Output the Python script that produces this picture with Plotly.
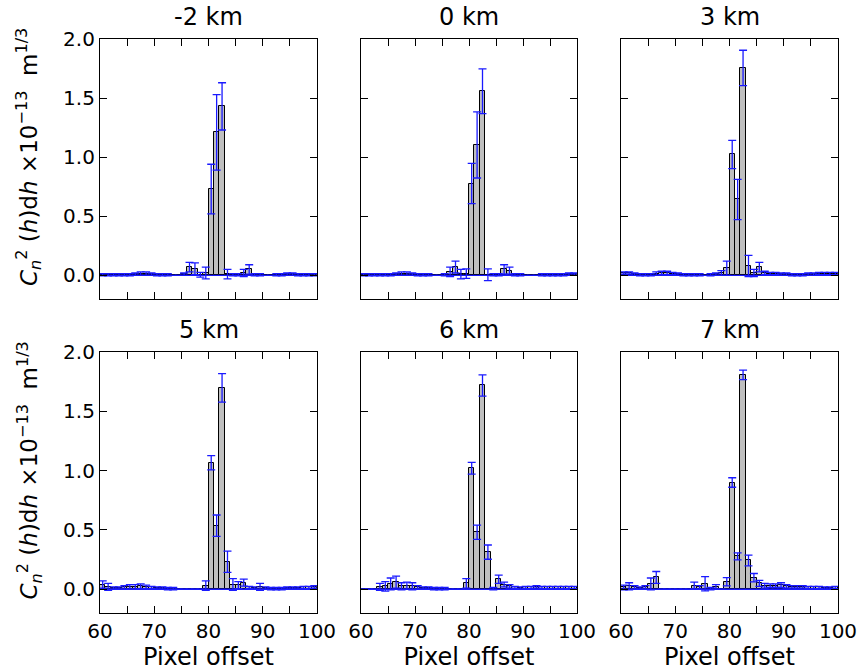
import plotly.graph_objects as go

# Pixel offsets (left edge of each unit-wide bin)
PIXELS = list(range(60, 100))

TITLES = ["-2 km", "0 km", "3 km", "5 km", "6 km", "7 km"]

# Cn2(h)dh per bin, in units of 1e-13 m^(1/3), one list per altitude
VAL_M2 = [0.005, 0.005, 0.005, 0.005, 0.005, 0.005, 0.01, 0.015, 0.015, 0.01,
          0.005, 0.005, 0.005, 0.0, 0.0, 0.01, 0.07, 0.055, 0.005, 0.02,
          0.73, 1.21, 1.43, 0.01, 0.005, 0.005, 0.02, 0.05, 0.005, 0.005,
          0.0, 0.0, 0.005, 0.005, 0.01, 0.01, 0.005, 0.005, 0.005, 0.005]
ERR_M2 = [0.01, 0.01, 0.01, 0.01, 0.01, 0.01, 0.01, 0.015, 0.015, 0.01,
          0.01, 0.01, 0.01, 0.0, 0.0, 0.01, 0.04, 0.05, 0.02, 0.05,
          0.21, 0.32, 0.20, 0.04, 0.01, 0.01, 0.03, 0.04, 0.01, 0.01,
          0.0, 0.0, 0.01, 0.01, 0.01, 0.01, 0.01, 0.01, 0.01, 0.01]

VAL_0 = [0.005, 0.005, 0.005, 0.005, 0.005, 0.005, 0.01, 0.015, 0.015, 0.01,
         0.005, 0.005, 0.005, 0.0, 0.0, 0.005, 0.03, 0.07, 0.01, 0.015,
         0.777, 1.104, 1.558, 0.005, 0.005, 0.005, 0.05, 0.04, 0.005, 0.005,
         0.0, 0.0, 0.0, 0.005, 0.005, 0.005, 0.005, 0.005, 0.01, 0.01]
ERR_0 = [0.01, 0.01, 0.01, 0.01, 0.01, 0.01, 0.01, 0.015, 0.015, 0.01,
         0.01, 0.01, 0.01, 0.0, 0.0, 0.01, 0.04, 0.05, 0.04, 0.04,
         0.17, 0.28, 0.19, 0.05, 0.01, 0.01, 0.04, 0.03, 0.01, 0.01,
         0.0, 0.0, 0.0, 0.01, 0.01, 0.01, 0.01, 0.01, 0.01, 0.01]

VAL_3 = [0.02, 0.02, 0.01, 0.005, 0.005, 0.005, 0.015, 0.02, 0.02, 0.015,
         0.01, 0.005, 0.005, 0.005, 0.005, 0.0, 0.005, 0.01, 0.02, 0.06,
         1.023, 0.642, 1.755, 0.079, 0.02, 0.07, 0.02, 0.015, 0.015, 0.01,
         0.01, 0.005, 0.005, 0.005, 0.01, 0.01, 0.015, 0.015, 0.015, 0.015]
ERR_3 = [0.01, 0.01, 0.01, 0.01, 0.01, 0.01, 0.015, 0.015, 0.015, 0.01,
         0.01, 0.01, 0.01, 0.01, 0.01, 0.0, 0.01, 0.01, 0.02, 0.06,
         0.12, 0.17, 0.15, 0.09, 0.03, 0.04, 0.015, 0.01, 0.01, 0.01,
         0.01, 0.01, 0.01, 0.01, 0.01, 0.01, 0.01, 0.01, 0.01, 0.01]

VAL_5 = [0.04, 0.02, 0.01, 0.01, 0.015, 0.02, 0.02, 0.025, 0.02, 0.015,
         0.01, 0.01, 0.005, 0.005, 0.0, 0.0, 0.0, 0.0, 0.0, 0.03,
         1.067, 0.536, 1.698, 0.232, 0.04, 0.035, 0.056, 0.015, 0.01, 0.02,
         0.01, 0.005, 0.005, 0.005, 0.01, 0.01, 0.01, 0.015, 0.015, 0.02]
ERR_5 = [0.03, 0.03, 0.01, 0.01, 0.015, 0.02, 0.02, 0.02, 0.015, 0.01,
         0.01, 0.01, 0.01, 0.01, 0.0, 0.0, 0.0, 0.0, 0.0, 0.04,
         0.06, 0.09, 0.12, 0.09, 0.05, 0.03, 0.03, 0.01, 0.01, 0.03,
         0.01, 0.01, 0.01, 0.01, 0.01, 0.01, 0.01, 0.01, 0.01, 0.01]

VAL_6 = [0.0, 0.0, 0.0, 0.02, 0.025, 0.045, 0.06, 0.025, 0.03, 0.025,
         0.015, 0.01, 0.01, 0.005, 0.005, 0.005, 0.0, 0.0, 0.0, 0.05,
         1.02, 0.48, 1.718, 0.313, 0.005, 0.084, 0.04, 0.025, 0.015, 0.01,
         0.015, 0.015, 0.02, 0.015, 0.015, 0.015, 0.015, 0.015, 0.015, 0.015]
ERR_6 = [0.0, 0.0, 0.0, 0.03, 0.04, 0.05, 0.05, 0.03, 0.03, 0.03,
         0.015, 0.01, 0.01, 0.01, 0.01, 0.01, 0.0, 0.0, 0.0, 0.04,
         0.05, 0.06, 0.09, 0.06, 0.01, 0.035, 0.02, 0.015, 0.01, 0.01,
         0.01, 0.01, 0.01, 0.01, 0.01, 0.01, 0.01, 0.01, 0.01, 0.01]

VAL_7 = [0.015, 0.025, 0.015, 0.01, 0.015, 0.045, 0.1, 0.0, 0.0, 0.0,
         0.0, 0.0, 0.0, 0.03, 0.015, 0.047, 0.005, 0.02, 0.0, 0.064,
         0.9, 0.277, 1.807, 0.243, 0.098, 0.05, 0.03, 0.03, 0.03, 0.035,
         0.025, 0.02, 0.02, 0.02, 0.015, 0.015, 0.015, 0.01, 0.01, 0.015]
ERR_7 = [0.02, 0.03, 0.015, 0.01, 0.015, 0.05, 0.05, 0.0, 0.0, 0.0,
         0.0, 0.0, 0.0, 0.03, 0.015, 0.06, 0.01, 0.02, 0.0, 0.035,
         0.04, 0.03, 0.04, 0.045, 0.035, 0.025, 0.02, 0.015, 0.015, 0.02,
         0.015, 0.01, 0.01, 0.01, 0.01, 0.01, 0.01, 0.01, 0.01, 0.01]

VALUES = [VAL_M2, VAL_0, VAL_3, VAL_5, VAL_6, VAL_7]
ERRORS = [ERR_M2, ERR_0, ERR_3, ERR_5, ERR_6, ERR_7]

X_RANGE = [60, 100]
Y_RANGE = [-0.2, 2.0]

W, H = 862, 672
FONT = "DejaVu Sans"
BLUE = "#1a1aff"

# panel boxes in pixels: (left, right) per column, (top, bottom) per row
COLS = [(100, 317), (361, 577), (621, 838)]
ROWS = [(39, 299), (352, 613)]


def px_x(p):
    return p / W


def px_y(p):
    return 1 - p / H


fig = go.Figure()
annotations = []
layout = {}

for i, (vals, errs) in enumerate(zip(VALUES, ERRORS)):
    r, c = divmod(i, 3)
    n = i + 1
    xa = "x" if n == 1 else f"x{n}"
    ya = "y" if n == 1 else f"y{n}"
    centers = [p + 0.5 for p in PIXELS]

    fig.add_trace(go.Bar(
        x=centers, y=vals, width=1.0, xaxis=xa, yaxis=ya,
        marker=dict(color="#bfbfbf", line=dict(color="black", width=1)),
        error_y=dict(type="data", array=errs, color=BLUE, thickness=1.3, width=4),
        showlegend=False,
    ))
    fig.add_trace(go.Scatter(
        x=X_RANGE, y=[0, 0], mode="lines", xaxis=xa, yaxis=ya,
        line=dict(color=BLUE, width=1.3), showlegend=False, hoverinfo="skip",
    ))

    (l, rr), (t, b) = COLS[c], ROWS[r]
    xkey = "xaxis" if n == 1 else f"xaxis{n}"
    ykey = "yaxis" if n == 1 else f"yaxis{n}"
    xaxis = dict(
        domain=[px_x(l), px_x(rr)], anchor=ya, range=X_RANGE, automargin=False,
        tickmode="array", tickvals=[60, 70, 80, 90, 100],
        ticks="inside", ticklen=7, tickwidth=1, tickcolor="black",
        minor=dict(tickmode="array", tickvals=[65, 75, 85, 95], ticks="inside",
                   ticklen=7, tickwidth=1, tickcolor="black"),
        mirror="allticks", showline=True, linecolor="black", linewidth=1.2,
        showgrid=False, zeroline=False, showticklabels=(r == 1),
        tickfont=dict(family=FONT, size=20, color="black"),
    )
    if r == 1:
        xaxis["title"] = dict(text="Pixel offset",
                              font=dict(family=FONT, size=24, color="black"),
                              standoff=0)
    layout[xkey] = xaxis
    layout[ykey] = dict(
        domain=[px_y(b), px_y(t)], anchor=xa, range=Y_RANGE, automargin=False,
        tickmode="array", tickvals=[0.0, 0.5, 1.0, 1.5, 2.0], tickformat=".1f",
        ticks="inside", ticklen=7, tickwidth=1, tickcolor="black",
        mirror="allticks", showline=True, linecolor="black", linewidth=1.2,
        showgrid=False, zeroline=False, showticklabels=(c == 0),
        tickfont=dict(family=FONT, size=20, color="black"),
    )

    annotations.append(dict(
        text=TITLES[i], xref="paper", yref="paper",
        x=px_x((l + rr) / 2), y=px_y(t - 6), xanchor="center", yanchor="bottom",
        showarrow=False, font=dict(family=FONT, size=24, color="black"),
    ))

YLABEL = ("<i>C</i><sub><i>n</i></sub><sup>2</sup> (<i>h</i>)d<i>h</i> "
          "×10<sup>−13</sup>  m<sup>1/3</sup>")
for (t, b) in ROWS:
    annotations.append(dict(
        text=YLABEL, xref="paper", yref="paper",
        x=px_x(29), y=px_y((t + b) / 2 - 12), xanchor="center", yanchor="middle",
        textangle=-90, showarrow=False,
        font=dict(family=FONT, size=23, color="black"),
    ))

fig.update_layout(
    width=W, height=H,
    margin=dict(l=0, r=0, t=0, b=0),
    paper_bgcolor="white", plot_bgcolor="white",
    barmode="overlay", bargap=0,
    annotations=annotations,
    **layout,
)

fig.write_html("out.html")
